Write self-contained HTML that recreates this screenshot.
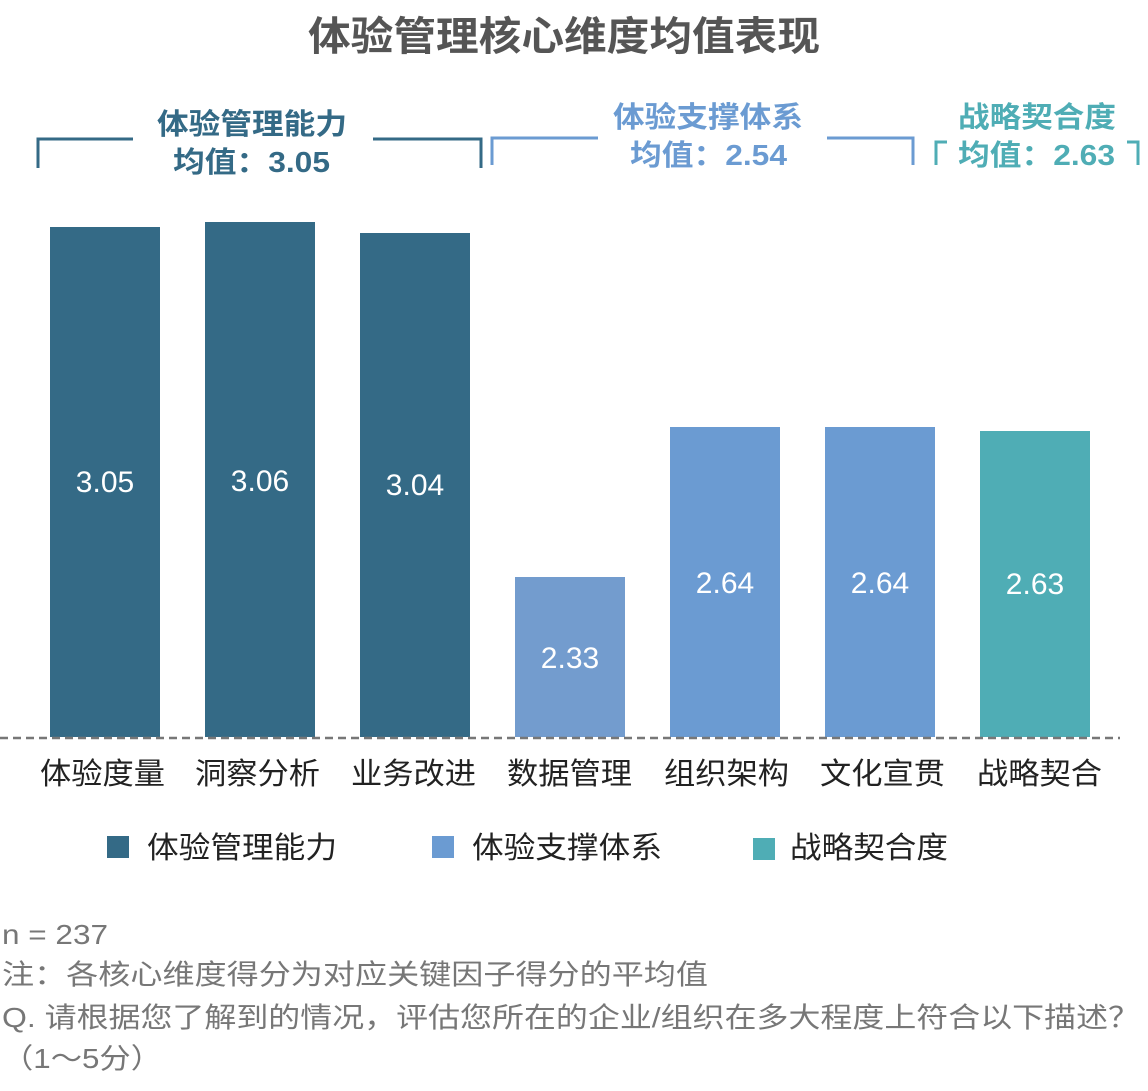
<!DOCTYPE html>
<html><head><meta charset="utf-8"><style>
body{margin:0;background:#fff;width:1148px;height:1086px;overflow:hidden;font-family:"Liberation Sans","Noto Sans CJK SC",sans-serif;}
</style></head><body>
<svg width="1148" height="1086" xmlns="http://www.w3.org/2000/svg" style="font-family:'Liberation Sans','Noto Sans CJK SC',sans-serif">
<text x="308" y="50" textLength="512" lengthAdjust="spacingAndGlyphs" font-size="40" font-weight="bold" fill="#555">体验管理核心维度均值表现</text>
<g fill="none" stroke-width="3">
<path d="M38 168 V139 H133" stroke="#346a86"/>
<path d="M373 139 H481 V168" stroke="#346a86"/>
<path d="M492 165 V138 H598" stroke="#6b9bd2"/>
<path d="M827 138 H913 V165" stroke="#6b9bd2"/>
<path d="M936 165 V142 H947" stroke="#4fadb5"/>
<path d="M1127 142 H1138 V165" stroke="#4fadb5"/>
</g>
<g font-weight="bold" font-size="29">
<text x="157" y="134" textLength="190" lengthAdjust="spacingAndGlyphs" fill="#346a86">体验管理能力</text>
<text x="173" y="172" textLength="157" lengthAdjust="spacingAndGlyphs" fill="#346a86">均值：3.05</text>
<text x="613" y="127" textLength="190" lengthAdjust="spacingAndGlyphs" fill="#6b9bd2">体验支撑体系</text>
<text x="630" y="165" textLength="157" lengthAdjust="spacingAndGlyphs" fill="#6b9bd2">均值：2.54</text>
<text x="958" y="127" textLength="158" lengthAdjust="spacingAndGlyphs" fill="#4fadb5">战略契合度</text>
<text x="958" y="165" textLength="157" lengthAdjust="spacingAndGlyphs" fill="#4fadb5">均值：2.63</text>
</g>
<rect x="50" y="227" width="110" height="510" fill="#346a86"/>
<rect x="205" y="222" width="110" height="515" fill="#346a86"/>
<rect x="360" y="233" width="110" height="504" fill="#346a86"/>
<rect x="515" y="577" width="110" height="160" fill="#739cce"/>
<rect x="670" y="427" width="110" height="310" fill="#6b9bd2"/>
<rect x="825" y="427" width="110" height="310" fill="#6b9bd2"/>
<rect x="980" y="431" width="110" height="306" fill="#4fadb5"/>
<line x1="0" y1="738" x2="1120" y2="738" stroke="#777" stroke-width="2.5" stroke-dasharray="8,5"/>
<g fill="#fff" font-size="30" text-anchor="middle">
<text x="105" y="492">3.05</text>
<text x="260" y="491">3.06</text>
<text x="415" y="495">3.04</text>
<text x="570" y="668">2.33</text>
<text x="725" y="593">2.64</text>
<text x="880" y="593">2.64</text>
<text x="1035" y="594">2.63</text>
</g>
<g fill="#222" font-size="30">
<text x="40" y="784" textLength="125" lengthAdjust="spacingAndGlyphs">体验度量</text>
<text x="195" y="784" textLength="125" lengthAdjust="spacingAndGlyphs">洞察分析</text>
<text x="351" y="784" textLength="125" lengthAdjust="spacingAndGlyphs">业务改进</text>
<text x="507" y="784" textLength="125" lengthAdjust="spacingAndGlyphs">数据管理</text>
<text x="664" y="784" textLength="125" lengthAdjust="spacingAndGlyphs">组织架构</text>
<text x="820" y="784" textLength="125" lengthAdjust="spacingAndGlyphs">文化宣贯</text>
<text x="977" y="784" textLength="125" lengthAdjust="spacingAndGlyphs">战略契合</text>
</g>
<rect x="107" y="836" width="22" height="22" fill="#346a86"/>
<rect x="432" y="836" width="22" height="22" fill="#6b9bd2"/>
<rect x="753" y="838" width="22" height="22" fill="#4fadb5"/>
<g fill="#222" font-size="30">
<text x="147" y="858" textLength="190" lengthAdjust="spacingAndGlyphs">体验管理能力</text>
<text x="472" y="858" textLength="190" lengthAdjust="spacingAndGlyphs">体验支撑体系</text>
<text x="790" y="858" textLength="158" lengthAdjust="spacingAndGlyphs">战略契合度</text>
</g>
<g fill="#777" font-size="28">
<text x="2" y="944" textLength="106" lengthAdjust="spacingAndGlyphs">n = 237</text>
<text x="2" y="984" textLength="706" lengthAdjust="spacingAndGlyphs">注：各核心维度得分为对应关键因子得分的平均值</text>
<text x="2" y="1027" textLength="1138" lengthAdjust="spacingAndGlyphs">Q. 请根据您了解到的情况，评估您所在的企业/组织在多大程度上符合以下描述？</text>
<text x="2" y="1068" textLength="160" lengthAdjust="spacingAndGlyphs">（1～5分）</text>
</g>
</svg>
</body></html>
